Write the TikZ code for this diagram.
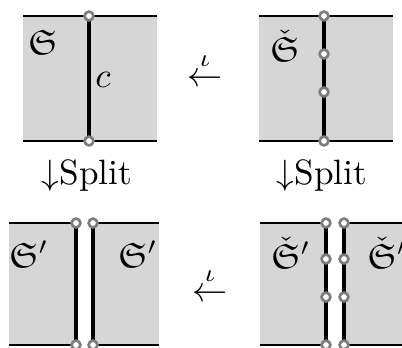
\documentclass[tikz,border=0pt]{standalone}
\usepackage{amsmath,amssymb}
\definecolor{panel}{RGB}{214,214,214}
\definecolor{ring}{RGB}{125,125,125}
\tikzset{
  panelfill/.style={fill=panel, draw=none},
  edgeline/.style={line width=0.45pt},
  cutline/.style={line width=0.95pt},
  vtx/.style={circle, draw=ring, fill=white, line width=0.75pt, minimum size=2.5pt, inner sep=0pt},
  lab/.style={inner sep=0pt},
}
\begin{document}
\begin{tikzpicture}[x=0.284pt,y=-0.284pt]
\useasboundingbox (0,0) rectangle (402,347);
\clip (0,0) rectangle (402,347);

% ---------- top-left panel ----------
\fill[panelfill] (23,16) rectangle (157,141);
\draw[edgeline] (23,16) -- (157,16);
\draw[edgeline] (23,141) -- (157,141);
\coordinate (a1) at (89,16);
\coordinate (a2) at (89,141);
\draw[cutline] (a1) -- (a2);
\node[vtx] (va1) at (a1) {};
\node[vtx] (va2) at (a2) {};
\node[lab] (s1) at (43,42) {$\mathfrak{S}$};
\node[lab] (cl) at (103,80) {$c$};

% ---------- top-right panel ----------
\fill[panelfill] (259,16) rectangle (393,141);
\draw[edgeline] (259,16) -- (393,16);
\draw[edgeline] (259,141) -- (393,141);
\coordinate (b1) at (324,16);
\coordinate (b2) at (324,54);
\coordinate (b3) at (324,92);
\coordinate (b4) at (324,141);
\draw[cutline] (b1) -- (b4);
\node[vtx] (vb1) at (b1) {};
\node[vtx] (vb2) at (b2) {};
\node[vtx] (vb3) at (b3) {};
\node[vtx] (vb4) at (b4) {};
\node[lab] (s2) at (285,46) {$\check{\mathfrak{S}}$};

% ---------- arrows ----------
\node[lab, anchor=base] (i1) at (205,86) {$\stackrel{\iota}{\leftarrow}$};
\node[lab, anchor=base] (i2) at (210,301) {$\stackrel{\iota}{\leftarrow}$};
\node[lab, anchor=base] (sp1) at (87,184) {$\downarrow$Split};
\node[lab, anchor=base] (sp2) at (322,184) {$\downarrow$Split};

% ---------- bottom-left panel ----------
\fill[panelfill] (9,223) rectangle (76,345);
\fill[panelfill] (93,223) rectangle (159,345);
\draw[edgeline] (9,223) -- (76,223);
\draw[edgeline] (93,223) -- (159,223);
\draw[edgeline] (9,345) -- (76,345);
\draw[edgeline] (93,345) -- (159,345);
\coordinate (c1) at (76,223);
\coordinate (c2) at (76,345);
\coordinate (d1) at (93,223);
\coordinate (d2) at (93,345);
\draw[cutline] (c1) -- (c2);
\draw[cutline] (d1) -- (d2);
\node[vtx] (vc1) at (c1) {};
\node[vtx] (vc2) at (c2) {};
\node[vtx] (vd1) at (d1) {};
\node[vtx] (vd2) at (d2) {};
\node[lab] (s3) at (29,254) {$\mathfrak{S}'$};
\node[lab] (s4) at (138,254) {$\mathfrak{S}'$};

% ---------- bottom-right panel ----------
\fill[panelfill] (260,223) rectangle (326,345);
\fill[panelfill] (344,223) rectangle (412,345);
\draw[edgeline] (260,223) -- (326,223);
\draw[edgeline] (344,223) -- (412,223);
\draw[edgeline] (260,345) -- (326,345);
\draw[edgeline] (344,345) -- (412,345);
\coordinate (e1) at (326,223);
\coordinate (e2) at (326,259);
\coordinate (e3) at (326,297);
\coordinate (e4) at (326,345);
\coordinate (f1) at (344,223);
\coordinate (f2) at (344,259);
\coordinate (f3) at (344,297);
\coordinate (f4) at (344,345);
\draw[cutline] (e1) -- (e4);
\draw[cutline] (f1) -- (f4);
\foreach \k in {1,2,3,4} {
  \node[vtx] (ve\k) at (e\k) {};
  \node[vtx] (vf\k) at (f\k) {};
}
\node[lab] (s5) at (291,253) {$\check{\mathfrak{S}}'$};
\node[lab, anchor=west] (s6) at (367,253) {$\check{\mathfrak{S}}'$};
\end{tikzpicture}
\end{document}
